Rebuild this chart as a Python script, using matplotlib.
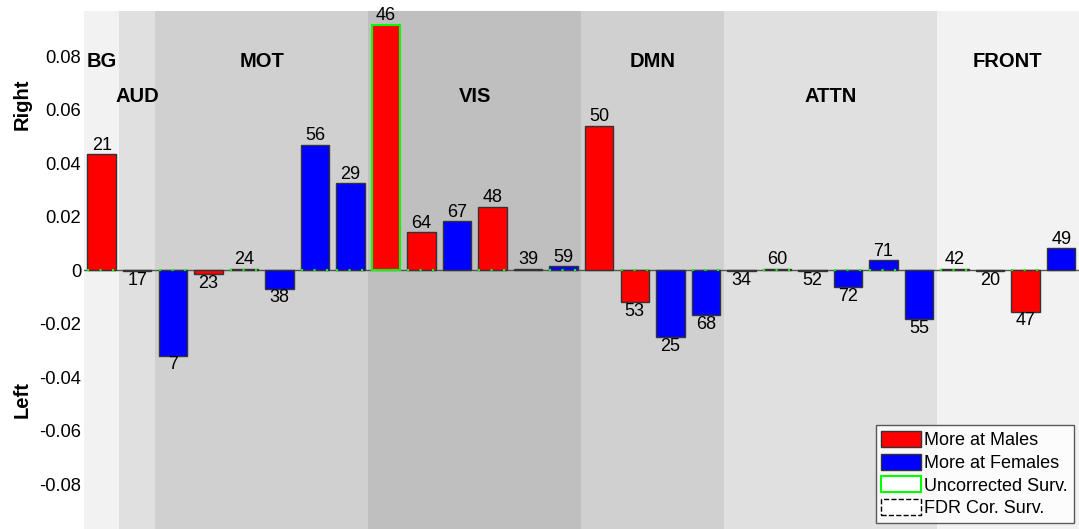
import numpy as np
import matplotlib
matplotlib.use("Agg")
import matplotlib.pyplot as plt
from matplotlib.patches import Patch

plt.rcParams['font.family'] = ['Liberation Sans', 'DejaVu Sans']

# bar values, labels and colours (left to right)
values = [0.0432, -0.0004, -0.0320, -0.0015, 0.0004, -0.0070, 0.0468, 0.0325,
          0.0916, 0.0142, 0.0183, 0.0236, 0.0004, 0.0015, 0.0540, -0.0120,
          -0.0252, -0.0168, -0.0004, 0.0004, -0.0004, -0.0064, 0.0037, -0.0184,
          0.0004, -0.0004, -0.0155, 0.0082]
bar_labels = [21, 17, 7, 23, 24, 38, 56, 29, 46, 64, 67, 48, 39, 59, 50, 53,
              25, 68, 34, 60, 52, 72, 71, 55, 42, 20, 47, 49]
is_male = [1, 0, 0, 1, 1, 0, 0, 0, 1, 1, 0, 1, 0, 0, 1, 1,
           0, 0, 0, 1, 0, 0, 0, 0, 1, 0, 1, 0]
uncorrected = [9]
green_base = [1, 3, 5, 7, 8, 10, 12, 14, 16, 18, 20, 22, 23, 25, 27]

# networks: name, first bar, last bar, shade, label height
networks = ['BG', 'AUD', 'MOT', 'VIS', 'DMN', 'ATTN', 'FRONT']
net_start = [1, 2, 3, 9, 15, 19, 25]
net_end = [1, 2, 8, 14, 18, 24, 28]
net_shade = ['#f2f2f2', '#e0e0e0', '#d0d0d0', '#bfbfbf', '#d0d0d0', '#e0e0e0', '#f2f2f2']
net_label_y = [0.0778, 0.0647, 0.0778, 0.0647, 0.0778, 0.0647, 0.0778]

fig = plt.figure(figsize=(10.79, 5.29), dpi=100)
ax = fig.add_axes([0.0778, 0.0, 0.9222, 0.979])

x = np.arange(1, len(values) + 1)

for name, s, e, c, ly in zip(networks, net_start, net_end, net_shade, net_label_y):
    ax.axvspan(s - 0.5, e + 0.5, color=c, lw=0, zorder=0)
    ax.text((s + e) / 2, ly, name, ha='center', va='center',
            fontsize=14.5, fontweight='bold', zorder=5)

ax.axhline(0, color='#555555', lw=1, zorder=1)

colors = ['#ff0000' if m else '#0000ff' for m in is_male]
bars = ax.bar(x, values, width=0.8, color=colors, edgecolor='#333333',
              linewidth=1, zorder=2)
for i in uncorrected:
    bars[i - 1].set_edgecolor('#00ff00')
    bars[i - 1].set_linewidth(1.5)

for i in green_base:
    ax.plot([i - 0.4, i + 0.4], [0, 0], color='#00ff00', lw=1.5,
            linestyle=(0, (1, 5)), zorder=3)

for xi, v, lab in zip(x, values, bar_labels):
    if v >= 0:
        ax.text(xi, v + 0.0002, str(lab), ha='center', va='bottom', fontsize=13, zorder=5)
    else:
        ax.text(xi, v - 0.0002, str(lab), ha='center', va='top', fontsize=13, zorder=5)

ax.set_xlim(0.5, 28.5)
ax.set_ylim(-0.0968, 0.0968)
yt = [-0.08, -0.06, -0.04, -0.02, 0, 0.02, 0.04, 0.06, 0.08]
ax.set_yticks(yt)
ax.set_yticklabels(['-0.08', '-0.06', '-0.04', '-0.02', '0', '0.02', '0.04', '0.06', '0.08'])
ax.set_xticks([])
ax.tick_params(axis='y', length=0, labelsize=13.2, pad=2)
for sp in ax.spines.values():
    sp.set_visible(False)

fig.text(22 / 1079, 1 - 104 / 529, 'Right', rotation=90, ha='center', va='center',
         fontsize=14.5, fontweight='bold')
fig.text(22 / 1079, 1 - 400 / 529, 'Left', rotation=90, ha='center', va='center',
         fontsize=14.5, fontweight='bold')

handles = [Patch(facecolor='#ff0000', edgecolor='#333333', label='More at Males'),
           Patch(facecolor='#0000ff', edgecolor='#333333', label='More at Females'),
           Patch(facecolor='white', edgecolor='#00ff00', lw=1.5, label='Uncorrected Surv.'),
           Patch(facecolor='white', edgecolor='black', linestyle='--', label='FDR Cor. Surv.')]
leg = ax.legend(handles=handles, loc='lower right', bbox_to_anchor=(0.9945, 0.012),
                fontsize=13, frameon=True, fancybox=False, edgecolor='#333333',
                handlelength=2.2, handleheight=1.0, handletextpad=0.2,
                labelspacing=0.25, borderpad=0.3, borderaxespad=0)
leg.get_frame().set_linewidth(1)
leg.set_zorder(10)

fig.savefig('out.png', dpi=100)
